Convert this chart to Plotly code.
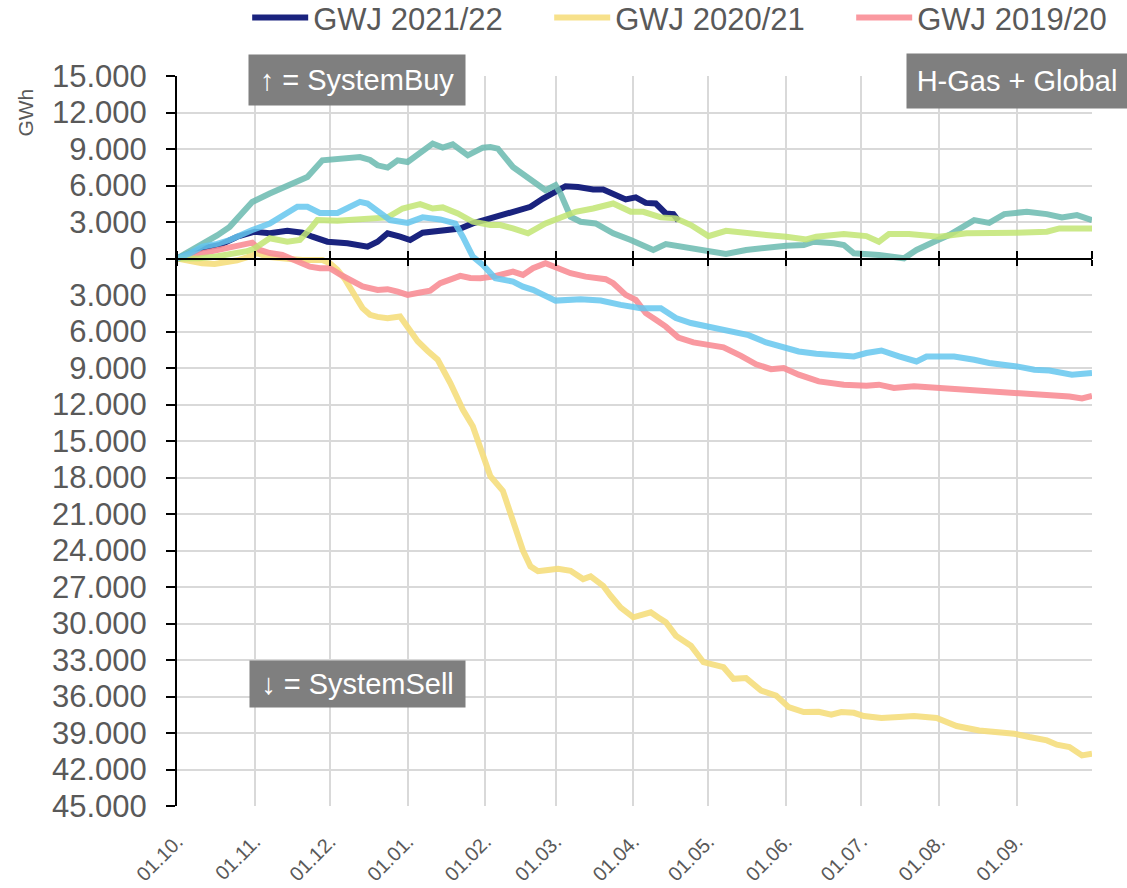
import plotly.graph_objects as go

# ---------------- data (days since 01.10., GWh; negative = SystemSell) ----------------
MONTH_DAYS = [0, 31, 61, 92, 123, 151, 182, 212, 243, 273, 304, 335, 365]
MONTH_LABELS = ["01.10.", "01.11.", "01.12.", "01.01.", "01.02.", "01.03.", "01.04.",
                "01.05.", "01.06.", "01.07.", "01.08.", "01.09.", ""]
Y_TICKS = list(range(-45000, 15001, 3000))

GWJ2122_DAYS = [0, 5, 10, 17, 24, 31, 37, 44, 50, 54,
                60, 68, 76, 80, 84, 89, 93, 98, 106, 113,
                118, 123, 129, 134, 141, 146, 151, 155, 160, 166,
                170, 174, 179, 183, 187, 191, 195, 198, 200]
GWJ2122_GWH = [0, 450, 840, 1110, 1790, 2200, 2070, 2280, 2120, 1790,
               1380, 1250, 970, 1380, 2070, 1790, 1520, 2120, 2340, 2470,
               2880, 3160, 3600, 3840, 4250, 4930, 5560, 5940, 5880, 5670,
               5670, 5340, 4850, 5020, 4570, 4520, 3700, 3650, 3100]

GWJ2021_DAYS = [0, 5, 10, 15, 20, 24, 28, 32, 36, 40,
                45, 50, 54, 58, 61, 64, 67, 69, 72, 74,
                77, 80, 84, 89, 93, 96, 100, 104, 109, 114,
                118, 122, 125, 130, 134, 138, 141, 144, 148, 152,
                157, 162, 165, 170, 173, 177, 182, 186, 189, 192,
                195, 199, 205, 210, 214, 218, 222, 227, 233, 239,
                244, 250, 256, 261, 265, 270, 274, 281, 288, 294,
                303, 311, 320, 327, 334, 340, 347, 351, 356, 361,
                365]
GWJ2021_GWH = [0, -250, -390, -450, -350, -150, 100, 430, 150, 20,
               -50, -120, -100, -120, -400, -940, -1700, -2310, -3400, -4080,
               -4630, -4800, -4900, -4770, -6000, -6800, -7600, -8320, -10230, -12420,
               -13790, -16250, -17890, -19100, -21400, -24000, -25300, -25700, -25600, -25500,
               -25670, -26350, -26130, -26900, -27720, -28700, -29490, -29300, -29080, -29500,
               -29900, -31000, -31820, -33180, -33450, -33590, -34550, -34490, -35510, -35920,
               -36870, -37280, -37250, -37500, -37280, -37340, -37610, -37770, -37690, -37610,
               -37770, -38430, -38790, -38950, -39060, -39330, -39610, -39960, -40150, -40840,
               -40700]

GWJ1920_DAYS = [0, 5, 10, 17, 24, 30, 33, 37, 42, 47,
                53, 57, 61, 65, 69, 74, 80, 84, 88, 92,
                97, 101, 105, 109, 113, 117, 121, 126, 130, 134,
                138, 142, 147, 151, 157, 163, 167, 171, 174, 179,
                183, 187, 191, 195, 200, 206, 212, 218, 225, 231,
                237, 242, 248, 256, 266, 275, 280, 286, 294, 304,
                315, 328, 339, 349, 356, 361, 365]
GWJ1920_GWH = [0, 200, 430, 700, 970, 1300, 700, 450, 290, -100,
               -670, -800, -800, -1300, -1760, -2300, -2580, -2520, -2720, -2990,
               -2800, -2640, -2030, -1700, -1430, -1600, -1620, -1490, -1250, -1080,
               -1350, -800, -390, -670, -1210, -1490, -1550, -1700, -2030, -2990,
               -3400, -4490, -5040, -5600, -6500, -6900, -7100, -7300, -8000, -8700,
               -9100, -9000, -9550, -10100, -10370, -10450, -10370, -10640, -10510, -10640,
               -10780, -10920, -11050, -11190, -11350, -11500, -11300]

TEAL_DAYS = [0, 5, 10, 16, 21, 26, 30, 37, 44, 52,
             58, 64, 73, 77, 80, 84, 88, 92, 97, 102,
             106, 110, 116, 122, 125, 128, 134, 140, 147, 151,
             153, 157, 161, 167, 174, 181, 186, 190, 195, 203,
             212, 219, 227, 234, 243, 250, 254, 262, 266, 270,
             275, 280, 290, 295, 302, 308, 318, 324, 330, 339,
             347, 353, 359, 365]
TEAL_GWH = [0, 600, 1100, 1900, 2600, 3730, 4650, 5340, 6020, 6700,
            8070, 8130, 8340, 8100, 7660, 7470, 8070, 7930, 8750, 9440,
            9110, 9380, 8480, 9110, 9160, 9030, 7520, 6570, 5610, 6020,
            5340, 3430, 3020, 2880, 2070, 1520, 1110, 700, 1190, 890,
            640, 370, 700, 890, 1050, 1110, 1380, 1250, 1110, 430,
            370, 290, 20, 700, 1380, 1930, 3160, 2930, 3650, 3840,
            3650, 3380, 3570, 3160]

GREEN_DAYS = [0, 5, 9, 15, 20, 24, 28, 31, 37, 44,
              49, 53, 56, 64, 74, 84, 90, 97, 102, 106,
              112, 118, 125, 129, 134, 140, 147, 153, 159, 166,
              174, 181, 186, 193, 199, 205, 212, 219, 227, 235,
              243, 251, 255, 266, 275, 280, 284, 292, 304, 308,
              315, 335, 347, 352, 365]
GREEN_GWH = [0, 0, 20, 150, 300, 430, 600, 840, 1660, 1380,
             1520, 2400, 3160, 3100, 3300, 3380, 4110, 4470, 4110, 4200,
             3700, 3020, 2750, 2750, 2470, 2070, 2880, 3380, 3840, 4110,
             4520, 3840, 3840, 3380, 3300, 2750, 1840, 2280, 2070, 1930,
             1790, 1570, 1790, 2010, 1840, 1380, 2010, 2010, 1790, 1930,
             2070, 2120, 2200, 2470, 2470]

BLUE_DAYS = [0, 5, 10, 16, 21, 26, 30, 37, 44, 48,
             52, 57, 64, 68, 73, 76, 81, 85, 92, 98,
             105, 111, 114, 118, 122, 127, 134, 138, 142, 147,
             151, 161, 169, 177, 185, 193, 199, 205, 212, 220,
             228, 235, 242, 248, 255, 266, 270, 275, 281, 288,
             295, 299, 310, 318, 324, 335, 342, 348, 357, 365]
BLUE_GWH = [0, 400, 970, 1200, 1520, 2000, 2340, 2880, 3700, 4250,
            4250, 3750, 3750, 4110, 4660, 4520, 3700, 3160, 2930, 3380,
            3210, 2880, 1790, 150, -530, -1620, -1900, -2310, -2580, -3130,
            -3460, -3340, -3460, -3810, -4080, -4080, -4900, -5300, -5600, -5850,
            -6300, -6900, -7300, -7640, -7830, -7910, -8050, -7770, -7560, -8050,
            -8460, -8050, -8050, -8320, -8590, -8870, -9140, -9200, -9550, -9410]

# ---------------- figure ----------------
FONT = "Liberation Sans"
TXT = "#595959"

fig = go.Figure()

series = [
    ("GWJ 2021/22", GWJ2122_DAYS, GWJ2122_GWH, "#1a237e", 1.0, True),
    ("GWJ 2020/21", GWJ2021_DAYS, GWJ2021_GWH, "#f6de7e", 0.9, True),
    ("GWJ 2019/20", GWJ1920_DAYS, GWJ1920_GWH, "#f98e96", 0.9, True),
    ("GWJ 2019/20 Buy", TEAL_DAYS, TEAL_GWH, "#6bbab0", 0.85, False),
    ("GWJ 2020/21 Buy", GREEN_DAYS, GREEN_GWH, "#c2e674", 0.85, False),
    ("GWJ 2021/22 Sell", BLUE_DAYS, BLUE_GWH, "#66c7ef", 0.85, False),
]
for name, xd, yd, col, op, leg in series:
    fig.add_trace(go.Scatter(
        x=xd, y=yd, mode="lines", name=name, showlegend=leg, opacity=op,
        line=dict(color=col, width=6), hoverinfo="skip"))

# invisible anchors so the zero-line axes (x2, x3) are drawn
for ax in ("x2", "x3"):
    fig.add_trace(go.Scatter(x=[MONTH_DAYS[0]], y=[Y_TICKS[0]], xaxis=ax, yaxis="y",
                             mode="markers", marker=dict(opacity=0), showlegend=False,
                             hoverinfo="skip"))

ytext = ["0" if v == 0 else f"{abs(v):,}".replace(",", ".") for v in Y_TICKS]

fig.update_layout(
    width=1127, height=888,
    margin=dict(l=177, r=35, t=76, b=82, autoexpand=False),
    paper_bgcolor="white", plot_bgcolor="white",
    font=dict(family=FONT, color=TXT, size=30),
    legend=dict(orientation="h", x=0.0767, y=1.0795, xanchor="left", yanchor="middle",
                font=dict(size=31, color=TXT), entrywidth=231, entrywidthmode="pixels",
                itemwidth=56, bgcolor="rgba(0,0,0,0)", traceorder="normal"),
    xaxis=dict(range=[0, 365], tickmode="array", tickvals=MONTH_DAYS, ticktext=MONTH_LABELS,
               tickangle=-45, tickfont=dict(size=20, color=TXT), showgrid=True,
               gridcolor="#d9d9d9", gridwidth=1.5, showline=False, ticks="",
               zeroline=False, ticklabelstandoff=19),
    xaxis2=dict(range=[0, 365], overlaying="x", anchor="free", position=0.75, side="bottom",
                tickmode="array", tickvals=MONTH_DAYS, showticklabels=False, showgrid=False,
                showline=True, linecolor="black", linewidth=2, ticks="outside", ticklen=6,
                tickwidth=2, tickcolor="black", zeroline=False),
    xaxis3=dict(range=[0, 365], overlaying="x", anchor="free", position=0.75, side="top",
                tickmode="array", tickvals=MONTH_DAYS, showticklabels=False, showgrid=False,
                showline=False, ticks="outside", ticklen=8, tickwidth=2, tickcolor="black",
                zeroline=False),
    yaxis=dict(range=[-45000, 15000], tickmode="array", tickvals=Y_TICKS, ticktext=ytext,
               tickfont=dict(size=31, color=TXT), showgrid=True, gridcolor="#d9d9d9",
               gridwidth=1.5, showline=True, linecolor="black", linewidth=2,
               ticks="outside", ticklen=9, tickwidth=2, tickcolor="black",
               zeroline=False, ticklabelstandoff=13),
)

# axis unit label
fig.add_annotation(xref="paper", yref="paper", x=-0.166, y=0.95, text="GWh",
                   textangle=-90, showarrow=False, font=dict(size=21, color=TXT),
                   xanchor="center", yanchor="middle")

# grey info boxes
boxes = [
    ("↑ = SystemBuy", 0.1967, 0.9945, 216, 50),
    ("H-Gas + Global", 0.918, 0.993, 220, 54),
    ("↓ = SystemSell", 0.1973, 0.167, 215, 46),
]
for txt, bx, by, bw, bh in boxes:
    fig.add_annotation(xref="paper", yref="paper", x=bx, y=by, text=txt, showarrow=False,
                       xanchor="center", yanchor="middle", width=bw, height=bh,
                       bgcolor="#7f7f7f", borderpad=0, font=dict(size=29, color="white"))

fig.write_html("out.html", config={"displayModeBar": False},
               post_script="document.body.style.margin='0';document.body.style.overflow='hidden';")
